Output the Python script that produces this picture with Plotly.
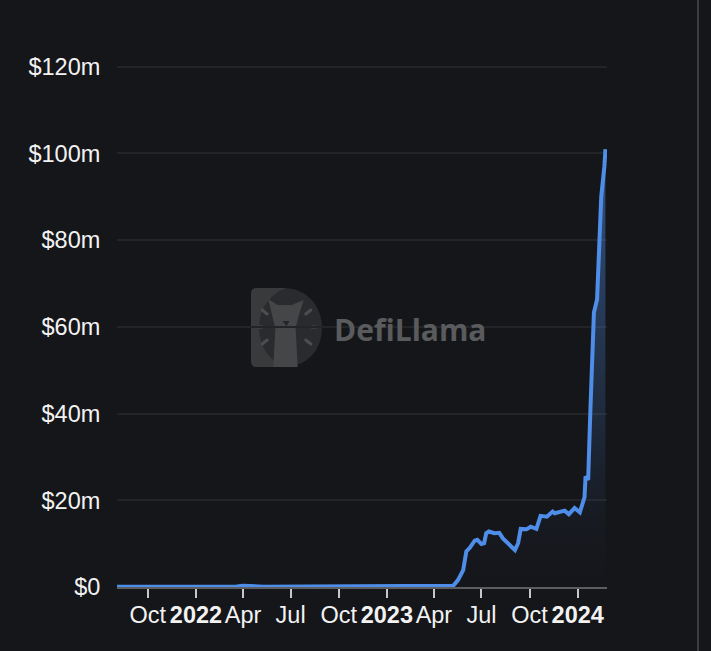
import base64
import plotly.graph_objects as go

dates = ["2021-08-03","2021-10-15","2022-01-01","2022-03-20","2022-04-01","2022-04-15","2022-05-10","2022-08-01","2022-11-01",
         "2023-01-01","2023-03-01","2023-04-10","2023-05-08","2023-05-17","2023-05-27","2023-06-02","2023-06-09","2023-06-18",
         "2023-06-23","2023-07-01","2023-07-06","2023-07-10","2023-07-15","2023-07-26","2023-08-04","2023-08-11","2023-08-27",
         "2023-09-03","2023-09-09","2023-09-14","2023-09-25","2023-10-03","2023-10-14","2023-10-22","2023-11-03","2023-11-14",
         "2023-11-18","2023-12-07","2023-12-15","2023-12-26","2024-01-05","2024-01-14","2024-01-16","2024-01-21","2024-01-25",
         "2024-01-27","2024-01-30","2024-02-01","2024-02-07","2024-02-12","2024-02-15","2024-02-21","2024-02-23"]
tvl_m = [0.05,0.05,0.08,0.1,0.3,0.2,0.08,0.12,0.2,
         0.3,0.35,0.5,0.3,1.6,3.9,8.2,9.1,10.7,
         10.9,9.9,10.1,12.4,12.8,12.4,12.5,11.2,9.5,
         8.5,10.1,13.4,13.3,13.9,13.4,16.4,16.2,17.4,
         17.0,17.6,16.8,18.2,17.2,20.7,25.5,24.7,40.0,
         48.6,62.4,63.3,66.3,80.0,90.0,97.0,101.0]
x_tick_dates = ["2021-10-01","2022-01-01","2022-04-01","2022-07-01","2022-10-01","2023-01-01","2023-04-01","2023-07-01","2023-10-01","2024-01-01"]
x_tick_labels = ["Oct","<b>2022</b>","Apr","Jul","Oct","<b>2023</b>","Apr","Jul","Oct","<b>2024</b>"]
y_tick_values = [0,20,40,60,80,100,120]
y_tick_labels = ["$0","$20m","$40m","$60m","$80m","$100m","$120m"]

BG = "#15161a"
LINE = "#4f8ee8"
FONT = "Liberation Sans"

logo_svg = """<svg xmlns="http://www.w3.org/2000/svg" viewBox="0 0 70 79" width="70" height="79">
<path d="M6 0H32C55 0 70 18 70 40C70 62 55 79 32 79H6Q0 79 0 73V6Q0 0 6 0Z" fill="#2a2b2e"/>
<path d="M6 0H35C20 5 8 20 8 40C8 60 20 74 35 79H6Q0 79 0 73V6Q0 0 6 0Z" fill="#393a3c"/>
<path d="M17 11L26 17H40L52 12L47 28L44 40L46 79H22L24 40L21 28Z" fill="#454647"/>
<path d="M31 33H38L35 38Z" fill="#232427"/>
<g stroke="#4c4d4f" stroke-width="3" stroke-linecap="round">
<path d="M11 22L16 26M54 26L59 22M7 39H11M60 39H64M11 56L16 52M54 52L59 56"/>
</g></svg>"""
logo_uri = "data:image/svg+xml;base64," + base64.b64encode(logo_svg.encode()).decode()

W, H, L, R, T, B = 711, 651, 117, 104, 58, 64
pw, ph = W - L - R, H - T - B
Y_MAX = 122

fig = go.Figure(go.Scatter(
    x=dates, y=tvl_m, mode="lines", cliponaxis=False,
    line=dict(color=LINE, width=4, shape="linear"),
    fill="tozeroy",
    fillgradient=dict(type="vertical", colorscale=[[0, "rgba(79,142,232,0)"], [0.15, "rgba(79,142,232,0.03)"], [1, "rgba(79,142,232,0.5)"]]),
    hoverinfo="skip",
))
fig.update_layout(
    width=W, height=H, margin=dict(l=L, r=R, t=T, b=B, pad=0), showlegend=False,
    paper_bgcolor=BG, plot_bgcolor="rgba(0,0,0,0)",
    font=dict(family=FONT, size=23.5, color="#f2f2f2"),
    xaxis=dict(range=["2021-08-03", "2024-02-26"], tickmode="array", tickvals=x_tick_dates, ticktext=x_tick_labels,
               showgrid=False, showline=True, linecolor="#5c5d61", linewidth=2,
               ticks="outside", ticklen=9, tickwidth=2, tickcolor="#c8c8c8", ticklabelstandoff=-3,
               zeroline=False, tickangle=0),
    yaxis=dict(range=[0, Y_MAX], tickmode="array", tickvals=y_tick_values, ticktext=y_tick_labels,
               showgrid=True, gridcolor="#232428", gridwidth=1.5, zeroline=False, showline=False,
               ticks="outside", ticklen=11, tickcolor="rgba(0,0,0,0)"),
    images=[dict(source=logo_uri, xref="paper", yref="paper", x=(251 - L) / pw, y=1 - (288 - T) / ph,
                 sizex=71 / pw, sizey=79 / ph, xanchor="left", yanchor="top", sizing="stretch", layer="below")],
    annotations=[dict(text="<b>DefiLlama</b>", xref="paper", yref="paper", x=(410 - L) / pw, y=1 - (329 - T) / ph,
                      showarrow=False, xanchor="center", yanchor="middle",
                      font=dict(family="Open Sans", size=30, color="#5a5b5d"))],
    shapes=[dict(type="line", xref="paper", yref="paper", x0=(698 - L) / pw, x1=(698 - L) / pw, y0=-1, y1=2,
                 line=dict(color="#3b3d41", width=2))],
)
fig.write_html("out.html", config={"displayModeBar": False},
               post_script="document.body.style.margin='0';document.body.style.overflow='hidden';document.body.style.background='%s';" % BG)
